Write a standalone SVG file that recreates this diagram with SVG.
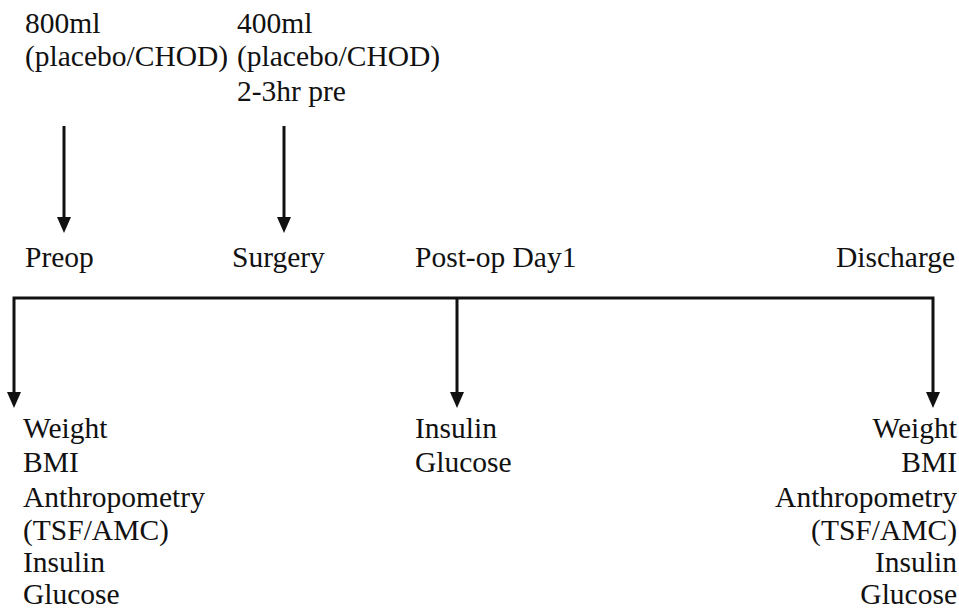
<svg xmlns="http://www.w3.org/2000/svg" width="959" height="609" viewBox="0 0 959 609">
<defs>
<style>
text{font-family:"Liberation Serif","Times New Roman",serif;font-size:29.5px;fill:#111}
.r{text-anchor:end}
.ln{stroke:#111;stroke-width:3;fill:none}
.ah{fill:#111}
</style>
</defs>
<rect width="959" height="609" fill="#fff"/>
<g id="connectors">
<line class="ln" x1="64" y1="126" x2="64" y2="218"/>
<line class="ln" x1="284" y1="126" x2="284" y2="218"/>
<path class="ln" d="M14,394 V298 H933 V394"/>
<line class="ln" x1="457" y1="298" x2="457" y2="394"/>
<polygon class="ah" points="57,217 71,217 64,233"/>
<polygon class="ah" points="277,217 291,217 284,233"/>
<polygon class="ah" points="7,392 21,392 14,408"/>
<polygon class="ah" points="450,392 464,392 457,408"/>
<polygon class="ah" points="926,392 940,392 933,408"/>
</g>
<g id="dose1">
<text x="25" y="33">800ml</text>
<text x="25" y="66">(placebo/CHOD)</text>
</g>
<g id="dose2">
<text x="237" y="33">400ml</text>
<text x="237" y="66">(placebo/CHOD)</text>
<text x="237" y="101">2-3hr pre</text>
</g>
<g id="preop"><text x="25" y="267">Preop</text></g>
<g id="surgery"><text x="232" y="267">Surgery</text></g>
<g id="postop"><text x="415" y="267">Post-op Day1</text></g>
<g id="discharge"><text x="836" y="267">Discharge</text></g>
<g id="preop-measures">
<text x="23" y="438">Weight</text>
<text x="23" y="472">BMI</text>
<text x="23" y="507">Anthropometry</text>
<text x="23" y="540">(TSF/AMC)</text>
<text x="23" y="572">Insulin</text>
<text x="23" y="604">Glucose</text>
</g>
<g id="postop-measures">
<text x="415" y="438">Insulin</text>
<text x="415" y="472">Glucose</text>
</g>
<g id="discharge-measures">
<text class="r" x="957" y="438">Weight</text>
<text class="r" x="957" y="472">BMI</text>
<text class="r" x="957" y="507">Anthropometry</text>
<text class="r" x="957" y="540">(TSF/AMC)</text>
<text class="r" x="957" y="572">Insulin</text>
<text class="r" x="957" y="604">Glucose</text>
</g>
</svg>
